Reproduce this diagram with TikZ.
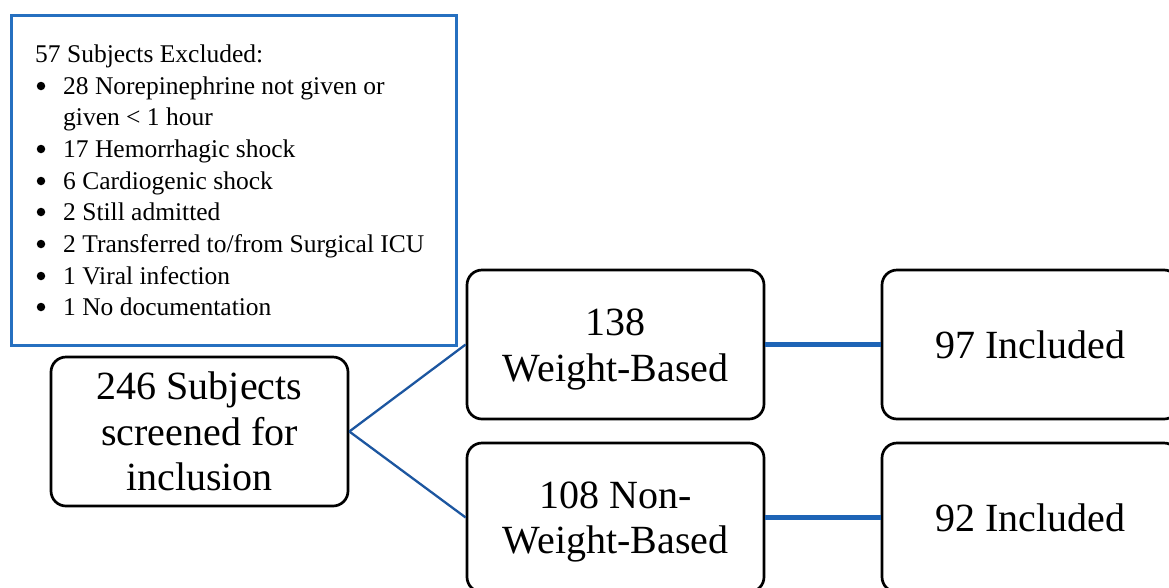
\documentclass[tikz,border=0pt]{standalone}
\usepackage{fontspec}
\setmainfont{Liberation Serif}
\usepackage{array}
\definecolor{boxblue}{RGB}{38,112,192}
\definecolor{linkblue}{RGB}{28,86,160}
\definecolor{hlinkblue}{RGB}{30,100,182}
\begin{document}
\begin{tikzpicture}[x=1pt,y=-1pt,
  stagebox/.style={draw=black, line width=2.7pt, rounded corners=15pt,
    minimum width=297pt, minimum height=149pt, inner sep=0pt, align=center,
    font=\fontsize{40}{45.5}\selectfont},
  bulletdot/.style={circle, fill=black, minimum size=8.5pt, inner sep=0pt},
  diaglink/.style={draw=linkblue, line width=2.3pt},
  horzlink/.style={draw=hlinkblue, line width=4.2pt}]
\useasboundingbox (0,0) rectangle (1169,587);
% exclusion box
\node[draw=boxblue, line width=3pt, minimum width=445pt, minimum height=330pt,
  inner sep=0pt, anchor=north west] (exclbox) at (10,14) {};
\node[anchor=north west, inner sep=0pt, font=\fontsize{25.5}{31.7}\selectfont]
  (excl) at (35,40) {\begin{tabular}{@{}p{28pt}@{}l@{}}
\multicolumn{2}{@{}l@{}}{57 Subjects Excluded:}\\
 & 28 Norepinephrine not given or\\
 & given < 1 hour\\
 & 17 Hemorrhagic shock\\
 & 6 Cardiogenic shock\\
 & 2 Still admitted\\
 & 2 Transferred to/from Surgical ICU\\
 & 1 Viral infection\\
 & 1 No documentation
\end{tabular}};
\foreach \i/\yy in {1/86,2/149,3/181,4/212,5/244,6/276,7/307}
  \node[bulletdot] (dot\i) at (41,\yy) {};
% stage boxes
\node[stagebox] (screen) at (199.5,431.5) {246 Subjects\\screened for\\inclusion};
\node[stagebox] (wb) at (615.5,344.5) {\rule{0pt}{37pt}138\\Weight-Based};
\node[stagebox] (nwb) at (615.5,517.5) {\rule{0pt}{36pt}108 Non-\\Weight-Based};
\node[stagebox] (inc97) at (1030.5,344.5) {97 Included};
\node[stagebox] (inc92) at (1030.5,517.5) {92 Included};
% connectors
\draw[diaglink] (screen.east) -- (wb.west);
\draw[diaglink] (screen.east) -- (nwb.west);
\draw[horzlink] (wb.east) -- (inc97.west);
\draw[horzlink] (nwb.east) -- (inc92.west);
\end{tikzpicture}
\end{document}
